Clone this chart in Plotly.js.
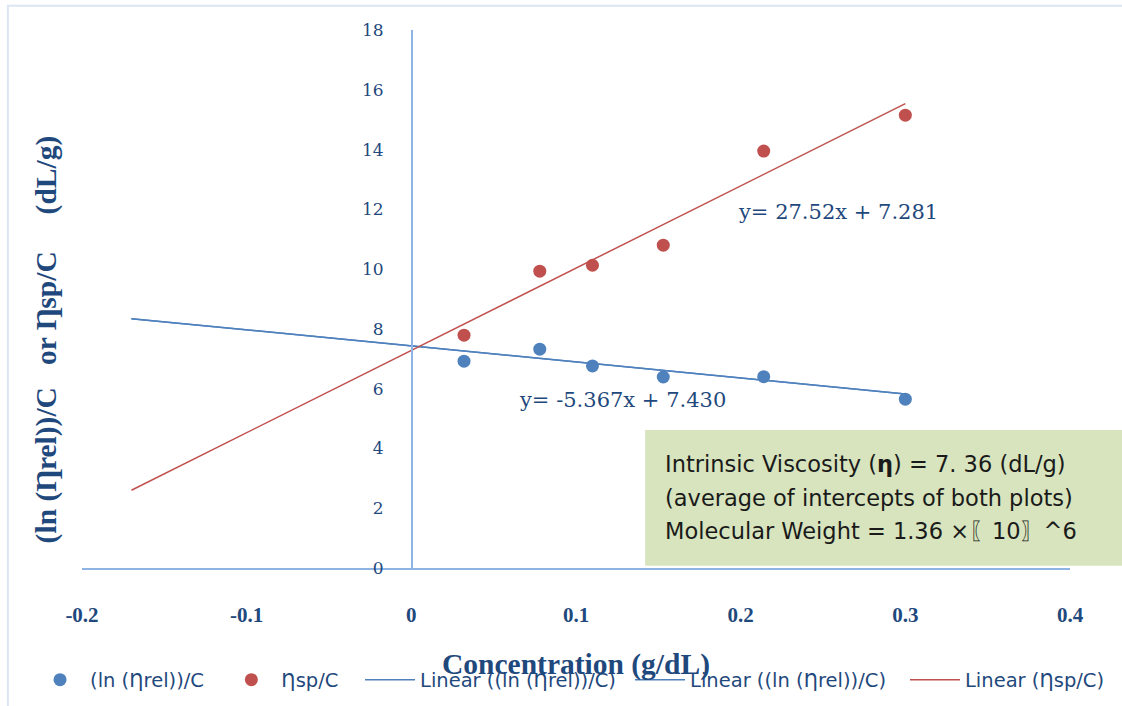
<!DOCTYPE html>
<html>
<head>
<meta charset="utf-8">
<script src="https://cdn.plot.ly/plotly-3.0.1.min.js"></script>
<style>html,body{margin:0;padding:0;background:#fff;}#chart{width:1122px;height:706px;}</style>
</head>
<body>
<div id="chart"></div>
<script>
// Data
const concentration = [0.032, 0.078, 0.110, 0.153, 0.214, 0.300];
const lnRelOverC = [6.92, 7.32, 6.76, 6.39, 6.40, 5.65];
const spOverC = [7.79, 9.93, 10.13, 10.80, 13.95, 15.15];
// Trendline equations as printed on the chart
const lnSlope = -5.367, lnIntercept = 7.430;
const spSlope = 27.52, spIntercept = 7.281;
const trendX = [-0.17, 0.30];
const xTicks = [-0.2, -0.1, 0, 0.1, 0.2, 0.3, 0.4];
const yTicks = [0, 2, 4, 6, 8, 10, 12, 14, 16, 18];
const seriesNames = ['(ln (Ƞrel))/C', 'Ƞsp/C', 'Linear ((ln (Ƞrel))/C)', 'Linear ((ln (Ƞrel))/C)', 'Linear (Ƞsp/C)'];
const boxLines = [
  'Intrinsic Viscosity (<b>η</b>) = 7. 36 (dL/g)',
  '(average of intercepts of both plots)',
  'Molecular Weight = 1.36 ×〖10〗^6'
];

const lnTrendY = trendX.map(x => lnSlope * x + lnIntercept);
const spTrendY = trendX.map(x => spSlope * x + spIntercept);

const BLUE = '#4F81BD', RED = '#C0504D', TXT = '#1F497D';
const SERIF = '"Liberation Serif", "Times New Roman", serif';

const traces = [
  {x: concentration, y: lnRelOverC, mode: 'markers', type: 'scatter', name: seriesNames[0] + '&nbsp;&nbsp;',
   marker: {color: BLUE, size: 13}, legend: 'legend'},
  {x: concentration, y: spOverC, mode: 'markers', type: 'scatter', name: seriesNames[1],
   marker: {color: RED, size: 13}, legend: 'legend'},
  {x: trendX, y: lnTrendY, mode: 'lines', type: 'scatter', name: seriesNames[2],
   line: {color: BLUE, width: 1.5}, legend: 'legend2'},
  {x: trendX, y: lnTrendY, mode: 'lines', type: 'scatter', name: seriesNames[3],
   line: {color: BLUE, width: 1.5}, legend: 'legend3'},
  {x: trendX, y: spTrendY, mode: 'lines', type: 'scatter', name: seriesNames[4],
   line: {color: RED, width: 1.5}, legend: 'legend4'}
];

const boxY = [0.1936, 0.1306, 0.0686];
const boxAnnotations = boxLines.map((t, i) => ({
  xref: 'paper', yref: 'paper', x: 0.588, y: boxY[i], xanchor: 'left', yanchor: 'middle',
  align: 'left', showarrow: false, text: t,
  font: {family: '"DejaVu Sans", sans-serif', size: 22.5, color: '#1a1a1a'}
}));

function legendAt(x) {
  return {orientation: 'h', x: x, y: 0.0368, yref: 'container', xanchor: 'left', yanchor: 'middle',
          font: {family: '"DejaVu Sans", sans-serif', size: 19.5, color: TXT},
          bgcolor: 'rgba(0,0,0,0)', tracegroupgap: 0, itemwidth: 50};
}

const layout = {
  width: 1122, height: 706,
  margin: {l: 82, r: 52, t: 30, b: 138},
  paper_bgcolor: '#ffffff', plot_bgcolor: '#ffffff',
  showlegend: true,
  legend: legendAt(-0.0526),
  legend2: legendAt(0.2814),
  legend3: legendAt(0.5547),
  legend4: legendAt(0.833),
  xaxis: {range: [-0.2, 0.4], tickvals: xTicks, ticktext: xTicks.map(String), automargin: false,
          showgrid: false, zeroline: false, showline: true, linecolor: '#8EB4E3', linewidth: 1.5,
          ticks: '', ticklabelstandoff: 27,
          tickfont: {family: SERIF, size: 21, color: TXT, weight: 'bold'}},
  yaxis: {range: [0, 18], tickvals: yTicks, ticktext: yTicks.map(String), automargin: false,
          anchor: 'free', position: 0.333, side: 'left',
          showgrid: false, zeroline: false, showline: true, linecolor: '#8EB4E3', linewidth: 1.5,
          ticks: '', ticklabelstandoff: 24,
          tickfont: {family: '"DejaVu Serif", serif', size: 17, color: TXT}},
  shapes: [
    {type: 'rect', xref: 'paper', yref: 'paper', x0: 0.570, x1: 1.06, y0: 0.004, y1: 0.2565,
     fillcolor: '#D7E4BD', line: {width: 0}, layer: 'below'},
    {type: 'rect', xref: 'paper', yref: 'paper', x0: -0.075, x1: 1.06, y0: -0.30, y1: 1.045,
     fillcolor: 'rgba(0,0,0,0)', line: {color: '#DCE6F2', width: 2}, layer: 'below'}
  ],
  annotations: [
    {xref: 'paper', yref: 'paper', x: 0.5, y: -0.180, xanchor: 'center', yanchor: 'middle',
     showarrow: false, text: '<b>Concentration (g/dL)</b>',
     font: {family: SERIF, size: 29.5, color: TXT}},
    {xref: 'paper', yref: 'paper', x: -0.0364, y: 0.425, xanchor: 'center', yanchor: 'middle',
     textangle: -90, showarrow: false,
     text: '<b>(ln (Ƞrel))/C&nbsp;&nbsp; or Ƞsp/C&nbsp;&nbsp;&nbsp;&nbsp; (dL/g)</b>',
     font: {family: SERIF, size: 29.5, color: TXT}},
    {xref: 'x', yref: 'y', x: 0.259, y: 11.9, showarrow: false, text: 'y= 27.52x + 7.281',
     font: {family: '"DejaVu Serif", serif', size: 21, color: TXT}},
    {xref: 'x', yref: 'y', x: 0.128, y: 5.62, showarrow: false, text: 'y= -5.367x + 7.430',
     font: {family: '"DejaVu Serif", serif', size: 21, color: TXT}}
  ].concat(boxAnnotations)
};

Plotly.newPlot('chart', traces, layout, {displayModeBar: false, staticPlot: true});
</script>
</body>
</html>
